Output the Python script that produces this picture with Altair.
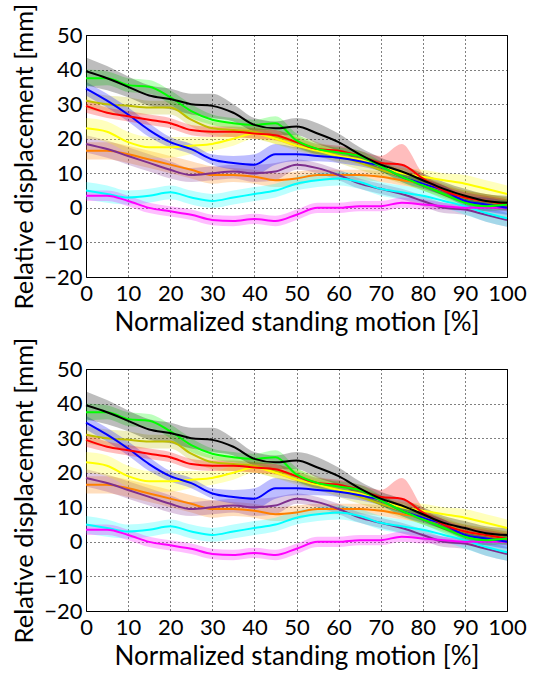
import altair as alt
import pandas as pd

X = list(range(0, 101, 5))

SERIES = ["orange", "purple", "cyan", "magenta", "olive", "yellow", "blue", "red", "green", "black"]
COLORS = ["#ff8000", "#7e2f8e", "#00ffff", "#ff00ff", "#bfbf00", "#ffff00", "#0000ff", "#ff0000", "#00ff00", "#000000"]

MEAN_TOP = {
    "black":   [39.5, 37.5, 35, 32.5, 31.5, 30, 29.5, 27.5, 24, 23, 23.5, 21.5, 19, 15.5, 12.5, 10.5, 8, 5.5, 3.5, 2, 1.5],
    "green":   [37.5, 37.5, 35.5, 35, 32, 28, 25.5, 24.5, 24, 24.5, 19.5, 17, 16, 15, 12, 9, 6.5, 4, 1.5, 0.5, 1],
    "blue":    [34.5, 31, 27, 22.5, 19, 17, 14, 13, 12.5, 15.5, 15.5, 15, 14.5, 13.5, 12, 9, 7, 5, 2, 1, 0],
    "olive":   [31, 30, 29.5, 29, 29, 25.5, 23, 22.5, 22, 20.5, 19, 17, 15, 13, 11, 9, 7, 5, 3, 2, 1],
    "red":     [29.5, 27.5, 26.5, 25.5, 24.5, 22.5, 22, 22, 21.5, 21, 19, 17, 16.5, 15, 13, 12.5, 8.5, 5, 3, 2, 1],
    "yellow":  [23, 22, 19, 17.5, 17.5, 18, 18.5, 20, 21.5, 20, 18, 16.5, 15, 14, 12, 10, 9, 8, 7, 5.5, 4],
    "purple":  [18.5, 17, 15, 13, 11, 9.5, 10, 10.5, 10, 10.5, 12.5, 11.5, 9.5, 7, 5.5, 4, 2, 0, -0.5, -2, -3.5],
    "orange":  [16.5, 16.5, 15.5, 14, 12.5, 11, 9.5, 9.5, 9, 8, 8.5, 9.5, 9.5, 9.5, 9, 8, 7, 5, 3, 2, 1],
    "cyan":    [5, 4, 3, 3.5, 4.5, 3, 2, 3, 4, 5, 7, 8, 8.5, 7.5, 5.5, 4.5, 3.5, 2, 0.5, -1.5, -3],
    "magenta": [3.5, 3.5, 2, 0, -1, -2, -3.5, -3.8, -3.2, -3.8, -2, 0, 0, 0.5, 0.5, 1.5, 1, 0.5, 0, 0, 0],
}

MEAN_BOTTOM = dict(MEAN_TOP)
MEAN_BOTTOM["black"] = [39.5, 37.5, 35, 32.5, 31.5, 30, 29.5, 27.5, 24, 23, 23.5, 21.5, 19, 15.5, 12.5, 10.5, 8, 5.5, 4, 2.5, 2]

SPREAD_UP = {
    "black":   [4, 3.5, 3, 3, 3, 3, 3.5, 2.5, 2, 2, 2.5, 3, 2.5, 2, 2, 2, 2, 2, 2, 2, 2],
    "green":   [2.5, 2, 2, 2, 2, 2, 1.5, 1.5, 1.5, 2, 2, 1.5, 1.5, 1.5, 1.5, 1.5, 1.5, 1.5, 1.5, 1.5, 1.5],
    "blue":    [2, 2, 2, 2, 1.5, 1.5, 1.5, 2, 3, 3, 2, 1.5, 1.5, 1.5, 1.5, 1.5, 1.5, 1.5, 1.5, 2, 2],
    "olive":   [2.5, 2.5, 2.5, 2, 2, 2, 2, 2, 2, 2, 2, 2, 2, 2, 2, 2, 2, 2, 2, 2, 2],
    "red":     [2, 1.5, 1.5, 1.5, 1.5, 1.5, 1.5, 1.5, 1.5, 1.5, 1.5, 1.5, 1.5, 1.5, 2, 6, 1.5, 1.5, 1.5, 1.5, 1.5],
    "yellow":  [3, 3, 3, 3, 3, 2.5, 2, 2, 1.5, 1.5, 1.5, 1.5, 1.5, 1.5, 1.5, 1.5, 2, 2, 2.5, 2.5, 2.5],
    "purple":  [2.5, 2.5, 2.5, 2.5, 2.5, 2, 2, 2, 2.5, 2.5, 1.5, 1.5, 1.5, 1.5, 1.5, 1.5, 1.5, 1.5, 1.5, 2, 2],
    "orange":  [2.5, 2.5, 2.5, 2.5, 2.5, 2.5, 2.5, 2, 2, 2, 2, 1.5, 1.5, 1.5, 1.5, 1.5, 1.5, 1.5, 2, 2, 2],
    "cyan":    [2.5, 2.5, 2, 2, 2, 2, 2, 2, 2, 2, 2, 2, 2, 2, 2, 2, 2, 2, 2.5, 2.5, 2.5],
    "magenta": [1.5, 1.5, 1.5, 1.5, 1.5, 1.5, 1.5, 1.5, 1.5, 1.5, 1.5, 1.5, 1.5, 1.5, 1.5, 1.5, 1.5, 1, 1, 1, 1],
}
SPREAD_DN = dict(SPREAD_UP)
SPREAD_DN["red"] = [2, 1.5, 1.5, 1.5, 1.5, 1.5, 1.5, 1.5, 1.5, 1.5, 1.5, 1.5, 1.5, 1.5, 1.5, 1.5, 1.5, 1.5, 1.5, 1.5, 1.5]

X_TICKS = list(range(0, 101, 10))
Y_TICKS = list(range(-20, 51, 10))
X_TITLE = "Normalized standing motion [%]"
Y_TITLE = "Relative displacement [mm]"
FONT = "Lato"


def make_df(means):
    rows = []
    for i, s in enumerate(SERIES):
        for j, x in enumerate(X):
            m = means[s][j]
            rows.append({
                "series": f"{i:02d}_{s}",
                "x": x,
                "y": m,
                "lo": m - SPREAD_DN[s][j],
                "hi": m + SPREAD_UP[s][j],
            })
    return pd.DataFrame(rows)


color = alt.Color(
    "series:N",
    scale=alt.Scale(domain=[f"{i:02d}_{s}" for i, s in enumerate(SERIES)], range=COLORS),
    legend=None,
)
xenc = alt.X(
    "x:Q",
    scale=alt.Scale(domain=[0, 100], nice=False),
    axis=alt.Axis(values=X_TICKS, title=X_TITLE),
)
yscale = alt.Scale(domain=[-20, 50], nice=False)
yaxis = alt.Axis(values=Y_TICKS, title=Y_TITLE)


def panel(means):
    df = make_df(means)
    base = alt.Chart(df)
    band = base.mark_area(opacity=0.26, interpolate="monotone").encode(
        x=xenc,
        y=alt.Y("lo:Q", scale=yscale, axis=yaxis),
        y2="hi:Q",
        color=color,
    )
    line = base.mark_line(strokeWidth=2, interpolate="monotone").encode(
        x=xenc, y=alt.Y("y:Q", scale=yscale, axis=yaxis), color=color
    )
    return alt.layer(band, line).properties(width=421, height=242)


chart = alt.vconcat(panel(MEAN_TOP), panel(MEAN_BOTTOM), spacing=0).properties(
    padding={"left": 12, "top": 2, "right": 2, "bottom": 0}
).configure_view(
    stroke="#000000", strokeWidth=1
).configure_axis(
    labelFont=FONT,
    titleFont=FONT,
    labelFontSize=22,
    labelColor="#000000",
    titleColor="#000000",
    titleFontWeight="normal",
    domain=False,
    ticks=False,
    grid=True,
    gridColor="#000000",
    gridDash=[1, 3],
    gridOpacity=1,
    gridWidth=1,
).configure_axisX(
    labelFlush=False,
    labelPadding=6,
    titleFontSize=26,
    titlePadding=5,
).configure_axisY(
    labelFlush=False,
    labelPadding=4,
    titleFontSize=25.5,
    titlePadding=6,
)

chart.save("out.html", embed_options={"renderer": "svg", "actions": False})
